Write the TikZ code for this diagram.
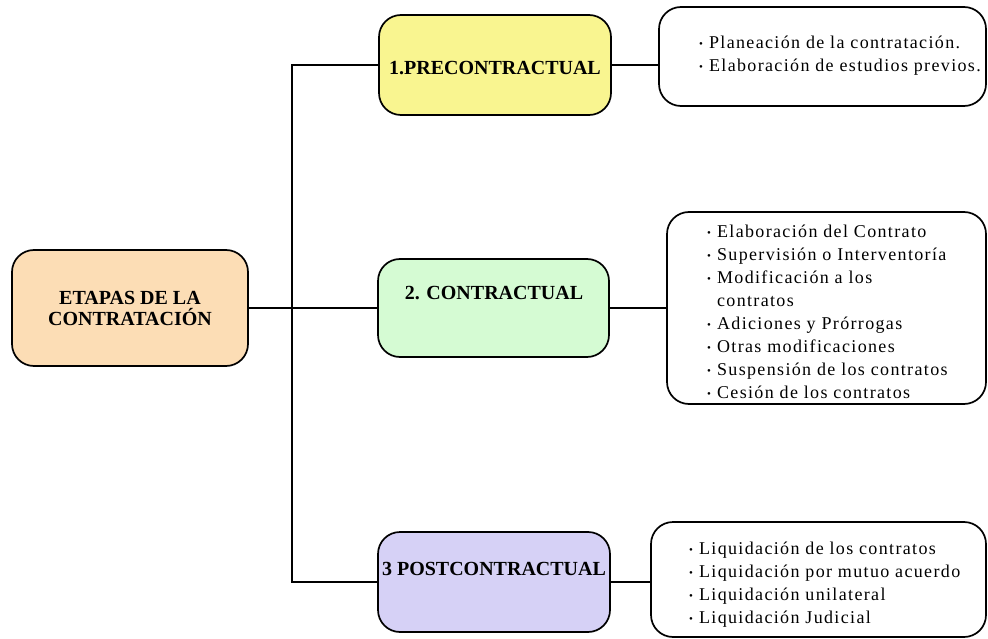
\documentclass[tikz,border=0pt]{standalone}
\usepackage{fontspec}
\setmainfont{Liberation Serif}
\definecolor{peach}{HTML}{FCDDB5}
\definecolor{yel}{HTML}{F9F590}
\definecolor{grn}{HTML}{D5FBD3}
\definecolor{lav}{HTML}{D6D1F6}
\newcommand{\bul}{{\fontsize{11}{11}\selectfont\raisebox{1pt}{•}}}
\begin{document}
\begin{tikzpicture}[x=1pt,y=-1pt,
  box/.style={draw=black,line width=1.7pt,rounded corners=22pt,inner sep=0pt},
  title/.style={font=\fontsize{20}{21}\selectfont\bfseries,align=center,inner sep=0pt},
  lst/.style={font=\fontsize{18}{23}\selectfont\addfontfeature{LetterSpace=7.5},align=left,anchor=north west,inner sep=0pt},
  conn/.style={line width=1.7pt}]
\useasboundingbox (0,0) rectangle (988,639);
% main boxes
\node[box,fill=peach,minimum width=236pt,minimum height=116pt] (root) at (130,308) {};
\node[box,fill=yel,minimum width=232pt,minimum height=100pt] (c1) at (495,65) {};
\node[box,fill=grn,minimum width=231pt,minimum height=98pt] (c2) at (493.5,308) {};
\node[box,fill=lav,minimum width=232pt,minimum height=100pt] (c3) at (494,582) {};
% detail boxes
\node[box,minimum width=327pt,minimum height=99pt] (r1) at (822.5,56.5) {};
\node[box,minimum width=319pt,minimum height=192pt] (r2) at (826.5,308) {};
\node[box,minimum width=335pt,minimum height=115pt] (r3) at (818.5,579.5) {};
% titles
\node[title] (troot) at (130,308) {ETAPAS DE LA\\CONTRATACIÓN};
\node[title] (t1) at (495,68) {1.PRECONTRACTUAL};
\node[title] (t2) at (494,293) {2. CONTRACTUAL};
\node[title] (t3) at (494,569) {3 POSTCONTRACTUAL};
% lists
\node[lst] (l1) at (699,32) {\begin{tabular}{@{}c@{\hspace{6pt}}l@{}}
\bul & Planeación de la contratación.\\
\bul & Elaboración de estudios previos.
\end{tabular}};
\node[lst] (l2) at (707,221.5) {\begin{tabular}{@{}c@{\hspace{6pt}}l@{}}
\bul & Elaboración del Contrato\\
\bul & Supervisión o Interventoría\\
\bul & Modificación a los\\
 & contratos\\
\bul & Adiciones y Prórrogas\\
\bul & Otras modificaciones\\
\bul & Suspensión de los contratos\\
\bul & Cesión de los contratos
\end{tabular}};
\node[lst] (l3) at (689,538.5) {\begin{tabular}{@{}c@{\hspace{6pt}}l@{}}
\bul & Liquidación de los contratos\\
\bul & Liquidación por mutuo acuerdo\\
\bul & Liquidación unilateral\\
\bul & Liquidación Judicial
\end{tabular}};
% connectors
\coordinate (tx) at (292,0);
\draw[conn] (root.east) -- (c2.west);
\draw[conn] (c1.west) -- (c1.west -| tx) -- (c3.west -| tx) -- (c3.west);
\draw[conn] (c1.east) -- (c1.east -| r1.west);
\draw[conn] (c2.east) -- (c2.east -| r2.west);
\draw[conn] (c3.east) -- (c3.east -| r3.west);
\end{tikzpicture}
\end{document}
